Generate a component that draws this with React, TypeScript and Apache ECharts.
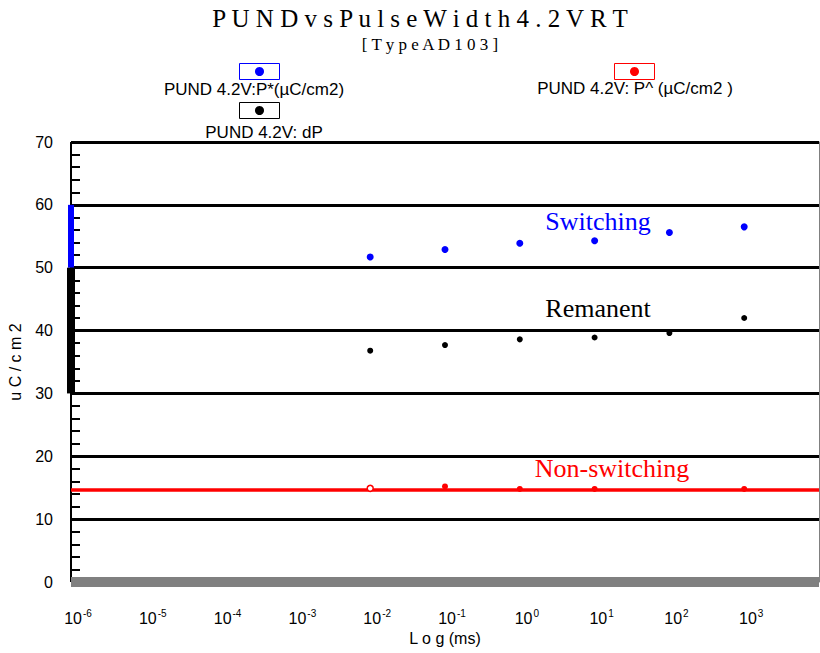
import React, { useEffect, useRef } from "react";
import * as echarts from "echarts";

// ---- data ----
const pulseWidths = [0.01, 0.1, 1, 10, 100, 1000];
const switchingP = [51.7, 52.9, 53.9, 54.3, 55.6, 56.5];
const remanentDP = [36.8, 37.7, 38.6, 38.9, 39.6, 42.0];
const nonSwitchWidths = [0.01, 0.1, 1, 10, 1000];
const nonSwitchP = [14.9, 15.2, 14.8, 14.8, 14.8];
const nonSwitchLevel = 14.7;
const switchingRange = [50, 60];
const remanentRange = [30, 50];
const xMin = 1e-6;
const xMax = 1e4;
const yMin = 0;
const yMax = 70;
const yInterval = 10;

const titleText = "P U N D v s P u l s e W i d t h 4 . 2 V R T";
const subTitleText = "[ T y p e A D 1 0 3 ]";
const seriesNames = ["PUND 4.2V:P*(µC/cm2)", "PUND 4.2V: dP", "PUND 4.2V: P^ (µC/cm2 )"];
const annotations = ["Switching", "Remanent", "Non-switching"];
const xAxisName = "L o g (ms)";
const yAxisName = "u C / c m 2";

const SANS = "Liberation Sans";
const SERIF = "Liberation Serif";

export default function App() {
  const ref = useRef<HTMLDivElement>(null);
  useEffect(() => {
    if (!ref.current) return;
    const chart = echarts.init(ref.current, undefined, { renderer: "svg" });
    const pts = (xs: number[], ys: number[]) => xs.map((x, i) => [x, ys[i]]);
    const redData: any[] = pts(nonSwitchWidths, nonSwitchP);
    redData[0] = {
      value: redData[0],
      itemStyle: { color: "#ffffff", borderColor: "#ff0000", borderWidth: 1.5 },
    };
    const option: any = {
      animation: false,
      backgroundColor: "#ffffff",
      grid: { left: 71, right: 1, top: 142, bottom: 71, containLabel: false, outerBoundsMode: "none" },
      xAxis: {
        type: "log",
        logBase: 10,
        min: xMin,
        max: xMax,
        interval: 1,
        splitNumber: 10,
        name: xAxisName,
        nameLocation: "middle",
        nameGap: 48,
        nameTextStyle: { fontFamily: SANS, fontSize: 16, color: "#000" },
        axisLine: { show: true, onZero: false, lineStyle: { color: "#808080", width: 10, cap: "butt" } },
        axisTick: { show: false },
        splitLine: { show: false },
        minorTick: { show: false },
        axisLabel: {
          show: true,
          interval: 0,
          margin: 26,
          showMaxLabel: false,
          hideOverlap: false,
          padding: [0, 0, 0, 14],
          color: "#000",
          fontFamily: SANS,
          fontSize: 16,
          formatter: (v: number) => `{b|10}{s|${Math.round(Math.log10(v))}}`,
          rich: {
            b: { fontFamily: SANS, fontSize: 16, color: "#000", verticalAlign: "bottom" },
            s: { fontFamily: SANS, fontSize: 10, color: "#000", verticalAlign: "top", padding: [0, 0, 8, 1] },
          },
        },
        z: 4,
      },
      yAxis: [
        {
          type: "value",
          min: yMin,
          max: yMax,
          interval: yInterval,
          name: yAxisName,
          nameLocation: "middle",
          nameGap: 48,
          nameRotate: 90,
          nameTextStyle: { fontFamily: SANS, fontSize: 16, color: "#000" },
          axisLine: { show: true, lineStyle: { color: "#000", width: 2, cap: "butt" } },
          axisTick: { show: true, inside: true, length: 0, lineStyle: { width: 0, opacity: 0 } },
          minorTick: { show: true, splitNumber: 5, length: 9, lineStyle: { color: "#000", width: 2 } },
          splitLine: { show: true, lineStyle: { color: "#000", width: 3 } },
          axisLabel: { margin: 18, color: "#000", fontFamily: SANS, fontSize: 16 },
          z: 2,
        },
        {
          type: "value",
          min: yMin,
          max: yMax,
          interval: yInterval,
          position: "right",
          axisLine: { show: true, lineStyle: { color: "#808080", width: 1 } },
          axisTick: { show: false },
          axisLabel: { show: false },
          splitLine: { show: false },
        },
      ],
      series: [
        {
          name: seriesNames[0],
          type: "scatter",
          symbol: "circle",
          symbolSize: 7,
          clip: false,
          itemStyle: { color: "#0000ff", opacity: 1 },
          data: pts(pulseWidths, switchingP),
          markLine: {
            silent: true,
            symbol: ["none", "none"],
            label: { show: false },
            lineStyle: { color: "#0000ff", width: 6, type: "solid", cap: "butt" },
            data: [[{ coord: [xMin, switchingRange[0]] }, { coord: [xMin, switchingRange[1]] }]],
          },
          z: 5,
        },
        {
          name: seriesNames[1],
          type: "scatter",
          symbol: "circle",
          symbolSize: 6,
          clip: false,
          itemStyle: { color: "#000000", opacity: 1 },
          data: pts(pulseWidths, remanentDP),
          markLine: {
            silent: true,
            symbol: ["none", "none"],
            label: { show: false },
            lineStyle: { color: "#000000", width: 8, type: "solid", cap: "butt" },
            data: [[{ coord: [xMin, remanentRange[0]] }, { coord: [xMin, remanentRange[1]] }]],
          },
          z: 5,
        },
        {
          name: seriesNames[2],
          type: "scatter",
          symbol: "circle",
          symbolSize: 6,
          clip: false,
          itemStyle: { color: "#ff0000", opacity: 1 },
          data: redData,
          markLine: {
            silent: true,
            symbol: ["none", "none"],
            label: { show: false },
            lineStyle: { color: "#ff0000", width: 3.5, type: "solid", cap: "butt" },
            data: [{ yAxis: nonSwitchLevel }],
          },
          z: 5,
        },
      ],
      graphic: [
        { type: "text", x: 420, y: 18, style: { text: titleText, font: `25px "${SERIF}"`, fill: "#000", align: "center", verticalAlign: "middle" } },
        { type: "text", x: 430, y: 44, style: { text: subTitleText, font: `17px "${SERIF}"`, fill: "#000", align: "center", verticalAlign: "middle" } },
        // legend
        { type: "rect", shape: { x: 239.5, y: 63.5, width: 40, height: 16 }, style: { fill: "#fff", stroke: "#0000ff", lineWidth: 1 } },
        { type: "circle", shape: { cx: 259.5, cy: 71.5, r: 4.5 }, style: { fill: "#0000ff" } },
        { type: "text", x: 254, y: 89, style: { text: seriesNames[0], font: `17px "${SANS}"`, fill: "#000", align: "center", verticalAlign: "middle" } },
        { type: "rect", shape: { x: 239.5, y: 102.5, width: 40, height: 16 }, style: { fill: "#fff", stroke: "#000", lineWidth: 1 } },
        { type: "circle", shape: { cx: 259.5, cy: 110.5, r: 4.5 }, style: { fill: "#000" } },
        { type: "text", x: 264, y: 132, style: { text: seriesNames[1], font: `17px "${SANS}"`, fill: "#000", align: "center", verticalAlign: "middle" } },
        { type: "rect", shape: { x: 614.5, y: 63.5, width: 40, height: 16 }, style: { fill: "#fff", stroke: "#ff0000", lineWidth: 1 } },
        { type: "circle", shape: { cx: 634.5, cy: 71.5, r: 4.5 }, style: { fill: "#ff0000" } },
        { type: "text", x: 635, y: 88, style: { text: seriesNames[2], font: `17px "${SANS}"`, fill: "#000", align: "center", verticalAlign: "middle" } },
        // annotations
        { type: "text", x: 598, y: 221, z: 10, style: { text: annotations[0], font: `26px "${SERIF}"`, fill: "#0000ff", align: "center", verticalAlign: "middle" } },
        { type: "text", x: 598, y: 308, z: 10, style: { text: annotations[1], font: `26px "${SERIF}"`, fill: "#000", align: "center", verticalAlign: "middle" } },
        { type: "text", x: 612, y: 468, z: 10, style: { text: annotations[2], font: `26px "${SERIF}"`, fill: "#ff0000", align: "center", verticalAlign: "middle" } },
      ],
    };
    chart.setOption(option);
    return () => chart.dispose();
  }, []);
  return <div ref={ref} style={{ position: "fixed", left: 0, top: 0, width: 820, height: 653 }} />;
}
